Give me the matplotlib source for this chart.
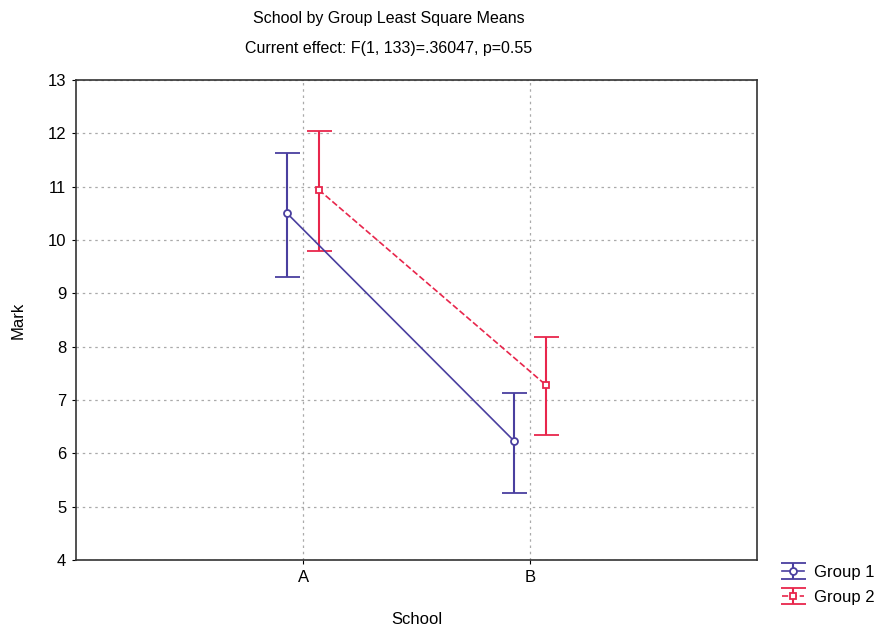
import matplotlib
matplotlib.use('Agg')
import matplotlib.pyplot as plt
import numpy as np

plt.rcParams['font.family'] = ['Liberation Sans', 'DejaVu Sans']

# data
schools = ['A', 'B']
g1_mean = [10.50, 6.23]
g1_low = [9.31, 5.26]
g1_high = [11.63, 7.13]
g2_mean = [10.94, 7.28]
g2_low = [9.79, 6.34]
g2_high = [12.04, 8.18]

blue = '#4a3f9f'
red = '#e8264c'
offset = 0.07

fig = plt.figure(figsize=(8.88, 6.29), dpi=100)
ax = fig.add_axes([0.0856, 0.1097, 0.767, 0.763])

x = np.arange(len(schools))
for means, lo, hi, color, ls, dx, mk, label in [
        (g1_mean, g1_low, g1_high, blue, '-', -offset, 'o', 'Group 1'),
        (g2_mean, g2_low, g2_high, red, '--', offset, 's', 'Group 2')]:
    means = np.array(means)
    yerr = [means - np.array(lo), np.array(hi) - means]
    ax.errorbar(x + dx, means, yerr=yerr, color=color, linestyle=ls, linewidth=1.2,
                marker=mk, markersize=5, markerfacecolor='white', markeredgecolor=color,
                markeredgewidth=1.3, capsize=9, capthick=1.5, elinewidth=1.5, label=label)

ax.set_xlim(-1, 2)
ax.set_ylim(4, 13)
ax.set_xticks(x)
ax.set_xticklabels(schools)
ax.set_yticks(np.arange(4, 14, 1))
ax.grid(True, color='#aaaaaa', linestyle=(0, (2, 3)), linewidth=0.9)
ax.tick_params(labelsize=12, direction='out', length=3, pad=4)
for s in ax.spines.values():
    s.set_color('#333333')
    s.set_linewidth(1.2)
ax.set_xlabel('School', fontsize=12, labelpad=20)
ax.set_ylabel('Mark', fontsize=12, labelpad=16)

fig.text(0.438, 0.971, 'School by Group Least Square Means', ha='center', va='center', fontsize=11.5)
fig.text(0.438, 0.923, 'Current effect: F(1, 133)=.36047, p=0.55', ha='center', va='center', fontsize=11.5)

ax.legend(loc='lower left', bbox_to_anchor=(1.02, -0.118), frameon=False, fontsize=12,
          handlelength=1.3, handletextpad=0.6, borderaxespad=0.3, labelspacing=0.6)

fig.savefig('out.png', dpi=100)
